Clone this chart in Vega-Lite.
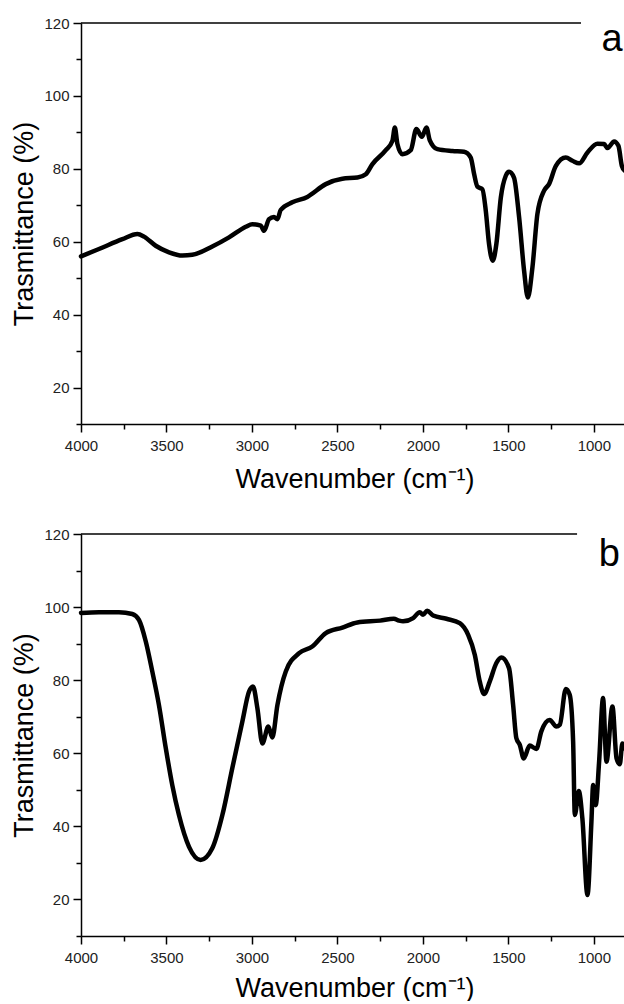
{
  "$schema": "https://vega.github.io/schema/vega-lite/v6.json",
  "background": "white",
  "padding": {"top": 16, "left": 10, "right": 0, "bottom": 0},
  "spacing": 35,
  "config": {
    "view": {"stroke": null},
    "font": "Liberation Sans",
    "axis": {
      "grid": false,
      "domainColor": "black",
      "domainWidth": 1.5,
      "tickColor": "black",
      "tickWidth": 1.5,
      "labelFont": "Liberation Sans",
      "labelFontSize": 15,
      "labelColor": "#222",
      "titleFont": "Liberation Sans",
      "titleFontSize": 27,
      "titleFontWeight": "normal",
      "titleColor": "black",
      "labelFlush": false,
      "labelOverlap": false,
      "format": "d"
    }
  },
  "datasets": {
    "a": [
      {"wavenumber": 4000, "transmittance": 56.0},
      {"wavenumber": 3895, "transmittance": 58.0},
      {"wavenumber": 3758, "transmittance": 60.7},
      {"wavenumber": 3670, "transmittance": 62.1},
      {"wavenumber": 3631, "transmittance": 61.4},
      {"wavenumber": 3563, "transmittance": 58.9},
      {"wavenumber": 3485, "transmittance": 57.1},
      {"wavenumber": 3407, "transmittance": 56.2},
      {"wavenumber": 3349, "transmittance": 56.4},
      {"wavenumber": 3232, "transmittance": 58.7},
      {"wavenumber": 3134, "transmittance": 61.2},
      {"wavenumber": 3036, "transmittance": 64.1},
      {"wavenumber": 2998, "transmittance": 64.8},
      {"wavenumber": 2948, "transmittance": 64.4},
      {"wavenumber": 2929, "transmittance": 63.0},
      {"wavenumber": 2900, "transmittance": 66.2},
      {"wavenumber": 2871, "transmittance": 66.8},
      {"wavenumber": 2851, "transmittance": 66.2},
      {"wavenumber": 2832, "transmittance": 68.7},
      {"wavenumber": 2764, "transmittance": 70.8},
      {"wavenumber": 2676, "transmittance": 72.3},
      {"wavenumber": 2568, "transmittance": 75.8},
      {"wavenumber": 2471, "transmittance": 77.3},
      {"wavenumber": 2383, "transmittance": 77.6},
      {"wavenumber": 2334, "transmittance": 78.5},
      {"wavenumber": 2295, "transmittance": 81.3},
      {"wavenumber": 2217, "transmittance": 85.1},
      {"wavenumber": 2178, "transmittance": 87.7},
      {"wavenumber": 2164, "transmittance": 91.3},
      {"wavenumber": 2149, "transmittance": 86.8},
      {"wavenumber": 2120, "transmittance": 84.0},
      {"wavenumber": 2071, "transmittance": 85.1},
      {"wavenumber": 2038, "transmittance": 90.9},
      {"wavenumber": 2006, "transmittance": 88.8},
      {"wavenumber": 1979, "transmittance": 91.3},
      {"wavenumber": 1960, "transmittance": 87.9},
      {"wavenumber": 1915, "transmittance": 85.4},
      {"wavenumber": 1827, "transmittance": 84.9},
      {"wavenumber": 1759, "transmittance": 84.7},
      {"wavenumber": 1720, "transmittance": 83.1},
      {"wavenumber": 1700, "transmittance": 78.5},
      {"wavenumber": 1681, "transmittance": 75.1},
      {"wavenumber": 1652, "transmittance": 74.4},
      {"wavenumber": 1632, "transmittance": 68.5},
      {"wavenumber": 1613, "transmittance": 59.4},
      {"wavenumber": 1591, "transmittance": 54.8},
      {"wavenumber": 1570, "transmittance": 59.4},
      {"wavenumber": 1544, "transmittance": 72.1},
      {"wavenumber": 1515, "transmittance": 78.1},
      {"wavenumber": 1496, "transmittance": 79.2},
      {"wavenumber": 1467, "transmittance": 77.6},
      {"wavenumber": 1437, "transmittance": 66.7},
      {"wavenumber": 1408, "transmittance": 52.1},
      {"wavenumber": 1386, "transmittance": 44.7},
      {"wavenumber": 1359, "transmittance": 53.0},
      {"wavenumber": 1330, "transmittance": 67.6},
      {"wavenumber": 1291, "transmittance": 74.0},
      {"wavenumber": 1262, "transmittance": 75.8},
      {"wavenumber": 1222, "transmittance": 80.8},
      {"wavenumber": 1164, "transmittance": 83.1},
      {"wavenumber": 1125, "transmittance": 82.2},
      {"wavenumber": 1086, "transmittance": 81.5},
      {"wavenumber": 1037, "transmittance": 84.5},
      {"wavenumber": 979, "transmittance": 86.9},
      {"wavenumber": 940, "transmittance": 86.8},
      {"wavenumber": 920, "transmittance": 85.7},
      {"wavenumber": 881, "transmittance": 87.5},
      {"wavenumber": 856, "transmittance": 86.3},
      {"wavenumber": 836, "transmittance": 80.8},
      {"wavenumber": 820, "transmittance": 79.5}
    ],
    "b": [
      {"wavenumber": 4000, "transmittance": 98.4},
      {"wavenumber": 3895, "transmittance": 98.6},
      {"wavenumber": 3778, "transmittance": 98.6},
      {"wavenumber": 3700, "transmittance": 98.1},
      {"wavenumber": 3661, "transmittance": 96.5},
      {"wavenumber": 3621, "transmittance": 90.6},
      {"wavenumber": 3583, "transmittance": 82.4},
      {"wavenumber": 3544, "transmittance": 73.2},
      {"wavenumber": 3504, "transmittance": 61.4},
      {"wavenumber": 3466, "transmittance": 51.3},
      {"wavenumber": 3427, "transmittance": 43.1},
      {"wavenumber": 3368, "transmittance": 34.4},
      {"wavenumber": 3300, "transmittance": 30.8},
      {"wavenumber": 3232, "transmittance": 34.0},
      {"wavenumber": 3173, "transmittance": 43.1},
      {"wavenumber": 3115, "transmittance": 55.9},
      {"wavenumber": 3056, "transmittance": 68.7},
      {"wavenumber": 3017, "transmittance": 76.9},
      {"wavenumber": 2994, "transmittance": 78.3},
      {"wavenumber": 2968, "transmittance": 72.3},
      {"wavenumber": 2939, "transmittance": 62.7},
      {"wavenumber": 2904, "transmittance": 67.3},
      {"wavenumber": 2881, "transmittance": 64.3},
      {"wavenumber": 2851, "transmittance": 73.2},
      {"wavenumber": 2802, "transmittance": 82.4},
      {"wavenumber": 2724, "transmittance": 87.4},
      {"wavenumber": 2647, "transmittance": 89.2},
      {"wavenumber": 2568, "transmittance": 92.9},
      {"wavenumber": 2471, "transmittance": 94.4},
      {"wavenumber": 2383, "transmittance": 95.8},
      {"wavenumber": 2250, "transmittance": 96.3},
      {"wavenumber": 2170, "transmittance": 96.8},
      {"wavenumber": 2140, "transmittance": 96.3},
      {"wavenumber": 2116, "transmittance": 96.1},
      {"wavenumber": 2057, "transmittance": 97.0},
      {"wavenumber": 2018, "transmittance": 98.6},
      {"wavenumber": 1999, "transmittance": 97.9},
      {"wavenumber": 1975, "transmittance": 99.0},
      {"wavenumber": 1940, "transmittance": 97.7},
      {"wavenumber": 1862, "transmittance": 96.8},
      {"wavenumber": 1784, "transmittance": 95.6},
      {"wavenumber": 1735, "transmittance": 92.4},
      {"wavenumber": 1696, "transmittance": 86.9},
      {"wavenumber": 1667, "transmittance": 79.6},
      {"wavenumber": 1642, "transmittance": 76.2},
      {"wavenumber": 1609, "transmittance": 79.6},
      {"wavenumber": 1570, "transmittance": 84.7},
      {"wavenumber": 1541, "transmittance": 86.2},
      {"wavenumber": 1496, "transmittance": 83.3},
      {"wavenumber": 1472, "transmittance": 73.2},
      {"wavenumber": 1453, "transmittance": 64.1},
      {"wavenumber": 1433, "transmittance": 62.3},
      {"wavenumber": 1410, "transmittance": 58.6},
      {"wavenumber": 1375, "transmittance": 62.1},
      {"wavenumber": 1336, "transmittance": 61.2},
      {"wavenumber": 1307, "transmittance": 66.0},
      {"wavenumber": 1258, "transmittance": 69.1},
      {"wavenumber": 1219, "transmittance": 67.3},
      {"wavenumber": 1199, "transmittance": 67.8},
      {"wavenumber": 1164, "transmittance": 77.6},
      {"wavenumber": 1141, "transmittance": 76.0},
      {"wavenumber": 1121, "transmittance": 63.2},
      {"wavenumber": 1111, "transmittance": 43.1},
      {"wavenumber": 1088, "transmittance": 49.7},
      {"wavenumber": 1067, "transmittance": 42.2},
      {"wavenumber": 1037, "transmittance": 21.2},
      {"wavenumber": 1014, "transmittance": 41.3},
      {"wavenumber": 1004, "transmittance": 51.3},
      {"wavenumber": 989, "transmittance": 45.8},
      {"wavenumber": 969, "transmittance": 57.7},
      {"wavenumber": 946, "transmittance": 75.1},
      {"wavenumber": 926, "transmittance": 57.7},
      {"wavenumber": 891, "transmittance": 72.8},
      {"wavenumber": 867, "transmittance": 58.6},
      {"wavenumber": 848, "transmittance": 57.0},
      {"wavenumber": 833, "transmittance": 62.7},
      {"wavenumber": 809, "transmittance": 60.5}
    ]
  },
  "vconcat": [
    {
      "width": 547,
      "height": 401,
      "resolve": {"axis": {"x": "independent", "y": "independent"}},
      "layer": [
        {
          "data": {"name": "a"},
          "mark": {"type": "line", "strokeOpacity": 0},
          "encoding": {
            "x": {
              "field": "wavenumber", "type": "quantitative",
              "scale": {"domain": [800, 4000], "reverse": true, "nice": false, "zero": false},
              "axis": {"orient": "bottom", "title": null, "labels": false, "domain": false, "tickSize": 5, "values": [1250, 1750, 2250, 2750, 3250, 3750]}
            },
            "y": {
              "field": "transmittance", "type": "quantitative",
              "scale": {"domain": [10, 120], "nice": false, "zero": false},
              "axis": {"orient": "left", "title": null, "labels": false, "domain": false, "tickSize": 5, "values": [10, 30, 50, 70, 90, 110]}
            }
          }
        },
        {
          "data": {"name": "a"},
          "mark": {"type": "line", "color": "black", "strokeWidth": 4.5, "interpolate": "monotone", "strokeJoin": "round", "strokeCap": "round"},
          "encoding": {
            "x": {
              "field": "wavenumber", "type": "quantitative",
              "axis": {"orient": "bottom", "title": "Wavenumber (cm⁻¹)", "values": [1000, 1500, 2000, 2500, 3000, 3500, 4000], "tickSize": 8, "labelPadding": 6, "titlePadding": 13}
            },
            "y": {
              "field": "transmittance", "type": "quantitative",
              "axis": {"orient": "left", "title": "Trasmittance (%)", "values": [20, 40, 60, 80, 100, 120], "tickSize": 8, "labelPadding": 4, "titlePadding": 5}
            }
          }
        },
        {
          "data": {"values": [{}]},
          "mark": {"type": "rule", "color": "black", "strokeWidth": 1.5},
          "encoding": {
            "x": {"datum": 4000, "type": "quantitative", "axis": null},
            "x2": {"datum": 1075},
            "y": {"datum": 120, "type": "quantitative", "axis": null}
          }
        },
        {
          "data": {"values": [{}]},
          "mark": {"type": "text", "text": "a", "fontSize": 38, "font": "Liberation Sans", "align": "center", "baseline": "alphabetic", "color": "black"},
          "encoding": {
            "x": {"datum": 893, "type": "quantitative", "axis": null},
            "y": {"datum": 112.3, "type": "quantitative", "axis": null}
          }
        }
      ]
    },
    {
      "width": 547,
      "height": 402,
      "resolve": {"axis": {"x": "independent", "y": "independent"}},
      "layer": [
        {
          "data": {"name": "b"},
          "mark": {"type": "line", "strokeOpacity": 0},
          "encoding": {
            "x": {
              "field": "wavenumber", "type": "quantitative",
              "scale": {"domain": [800, 4000], "reverse": true, "nice": false, "zero": false},
              "axis": {"orient": "bottom", "title": null, "labels": false, "domain": false, "tickSize": 5, "values": [1250, 1750, 2250, 2750, 3250, 3750]}
            },
            "y": {
              "field": "transmittance", "type": "quantitative",
              "scale": {"domain": [10, 120], "nice": false, "zero": false},
              "axis": {"orient": "left", "title": null, "labels": false, "domain": false, "tickSize": 5, "values": [10, 30, 50, 70, 90, 110]}
            }
          }
        },
        {
          "data": {"name": "b"},
          "mark": {"type": "line", "color": "black", "strokeWidth": 4.5, "interpolate": "monotone", "strokeJoin": "round", "strokeCap": "round"},
          "encoding": {
            "x": {
              "field": "wavenumber", "type": "quantitative",
              "axis": {"orient": "bottom", "title": "Wavenumber (cm⁻¹)", "values": [1000, 1500, 2000, 2500, 3000, 3500, 4000], "tickSize": 8, "labelPadding": 6, "titlePadding": 10}
            },
            "y": {
              "field": "transmittance", "type": "quantitative",
              "axis": {"orient": "left", "title": "Trasmittance (%)", "values": [20, 40, 60, 80, 100, 120], "tickSize": 8, "labelPadding": 4, "titlePadding": 5}
            }
          }
        },
        {
          "data": {"values": [{}]},
          "mark": {"type": "rule", "color": "black", "strokeWidth": 1.5},
          "encoding": {
            "x": {"datum": 4000, "type": "quantitative", "axis": null},
            "x2": {"datum": 1098},
            "y": {"datum": 120, "type": "quantitative", "axis": null}
          }
        },
        {
          "data": {"values": [{}]},
          "mark": {"type": "text", "text": "b", "fontSize": 38, "font": "Liberation Sans", "align": "center", "baseline": "alphabetic", "color": "black"},
          "encoding": {
            "x": {"datum": 910, "type": "quantitative", "axis": null},
            "y": {"datum": 111.2, "type": "quantitative", "axis": null}
          }
        }
      ]
    }
  ]
}
